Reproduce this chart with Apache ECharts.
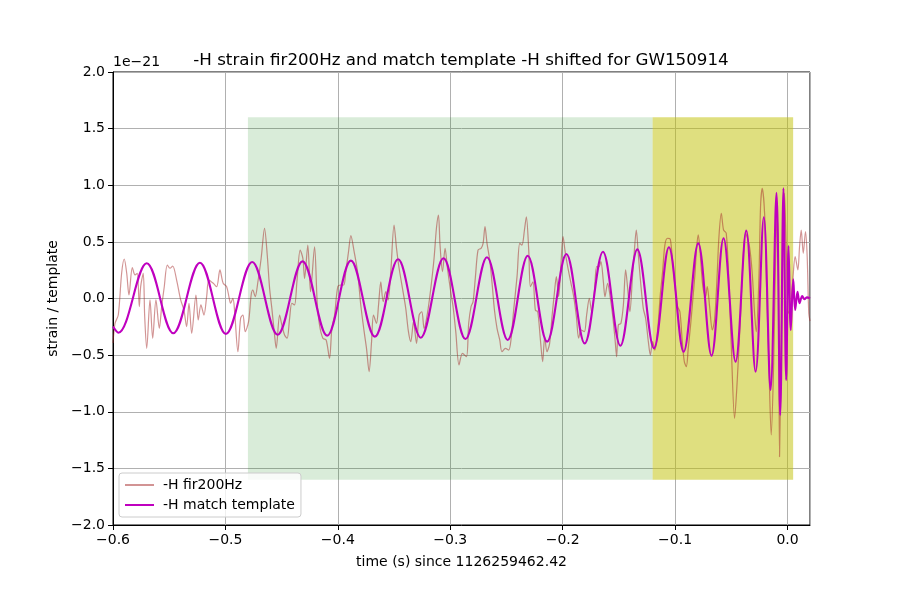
<!DOCTYPE html>
<html>
<head>
<meta charset="utf-8">
<script src="https://cdn.jsdelivr.net/npm/echarts@6/dist/echarts.min.js"></script>
<style>
html,body{margin:0;padding:0;background:#fff;}
#chart{width:900px;height:600px;}
</style>
</head>
<body>
<div id="chart"></div>
<script>
// time (s) since 1126259462.42 ; values in units of 1e-21
const strainTime = [
-0.6000,-0.5982,-0.5953,-0.5923,-0.5900,-0.5878,-0.5858,-0.5828,-0.5804,-0.5784,
-0.5766,-0.5754,-0.5731,-0.5718,-0.5700,-0.5671,-0.5647,-0.5618,-0.5588,-0.5567,
-0.5544,-0.5517,-0.5493,-0.5469,-0.5434,-0.5398,-0.5369,-0.5345,-0.5324,-0.5300,
-0.5262,-0.5242,-0.5218,-0.5191,-0.5167,-0.5147,-0.5108,-0.5078,-0.5049,-0.5020,
-0.4989,-0.4966,-0.4954,-0.4933,-0.4918,-0.4889,-0.4865,-0.4844,-0.4824,-0.4794,
-0.4771,-0.4756,-0.4735,-0.4711,-0.4682,-0.4652,-0.4628,-0.4607,-0.4587,-0.4563,
-0.4548,-0.4518,-0.4498,-0.4474,-0.4451,-0.4429,-0.4409,-0.4385,-0.4364,-0.4335,
-0.4311,-0.4296,-0.4267,-0.4243,-0.4207,-0.4184,-0.4163,-0.4133,-0.4104,-0.4074,
-0.4053,-0.4029,-0.4000,-0.3971,-0.3947,-0.3929,-0.3905,-0.3884,-0.3855,-0.3825,
-0.3796,-0.3766,-0.3745,-0.3722,-0.3700,-0.3683,-0.3656,-0.3638,-0.3618,-0.3597,
-0.3573,-0.3553,-0.3529,-0.3500,-0.3478,-0.3455,-0.3425,-0.3396,-0.3372,-0.3351,
-0.3327,-0.3300,-0.3277,-0.3253,-0.3233,-0.3203,-0.3173,-0.3144,-0.3123,-0.3105,
-0.3091,-0.3069,-0.3046,-0.3025,-0.2996,-0.2975,-0.2951,-0.2922,-0.2892,-0.2856,
-0.2836,-0.2815,-0.2797,-0.2776,-0.2753,-0.2726,-0.2708,-0.2691,-0.2673,-0.2649,
-0.2628,-0.2607,-0.2584,-0.2560,-0.2540,-0.2509,-0.2480,-0.2460,-0.2436,-0.2406,
-0.2382,-0.2362,-0.2340,-0.2323,-0.2302,-0.2287,-0.2264,-0.2243,-0.2222,-0.2198,
-0.2178,-0.2160,-0.2140,-0.2116,-0.2095,-0.2074,-0.2056,-0.2036,-0.2015,-0.1997,
-0.1976,-0.1947,-0.1926,-0.1902,-0.1878,-0.1858,-0.1837,-0.1807,-0.1787,-0.1763,
-0.1742,-0.1718,-0.1698,-0.1677,-0.1660,-0.1638,-0.1624,-0.1600,-0.1580,-0.1556,
-0.1535,-0.1520,-0.1505,-0.1482,-0.1460,-0.1440,-0.1422,-0.1402,-0.1380,-0.1363,
-0.1345,-0.1327,-0.1307,-0.1283,-0.1262,-0.1238,-0.1220,-0.1200,-0.1180,-0.1156,
-0.1132,-0.1111,-0.1091,-0.1067,-0.1043,-0.1022,-0.1002,-0.0978,-0.0957,-0.0936,
-0.0918,-0.0900,-0.0883,-0.0862,-0.0844,-0.0824,-0.0809,-0.0794,-0.0780,-0.0753,
-0.0729,-0.0714,-0.0693,-0.0669,-0.0649,-0.0628,-0.0610,-0.0589,-0.0569,-0.0545,
-0.0522,-0.0500,-0.0471,-0.0447,-0.0420,-0.0397,-0.0373,-0.0338,-0.0314,-0.0293,
-0.0278,-0.0255,-0.0240,-0.0225,-0.0204,-0.0184,-0.0166,-0.0145,-0.0124,-0.0107,
-0.0092,-0.0080,-0.0071,-0.0056,-0.0042,-0.0027,-0.0012,0.0009,0.0027,0.0047,
0.0068,0.0092,0.0107,0.0122,0.0140,0.0160,0.0175,0.0189,0.0200
];
const strainValue = [
-0.393,-0.219,-0.146,0.225,0.349,0.223,0.031,0.272,0.208,0.223,
-0.072,0.104,0.223,-0.161,-0.440,-0.013,-0.351,-0.013,-0.263,-0.072,
0.104,0.296,0.267,0.287,0.163,-0.013,-0.102,-0.249,-0.042,-0.307,
0.031,-0.190,-0.057,-0.146,0.016,0.163,0.134,0.104,0.252,0.134,
0.104,0.002,-0.042,0.002,-0.117,-0.470,-0.175,-0.146,-0.293,-0.205,
0.031,0.075,0.016,0.148,0.355,0.620,0.384,0.090,-0.087,-0.322,
-0.440,-0.146,-0.234,-0.322,-0.351,-0.175,-0.042,-0.057,0.148,0.428,
0.355,0.178,0.472,0.060,0.457,-0.028,-0.234,-0.351,-0.366,-0.528,
-0.263,-0.146,0.104,0.119,0.119,0.237,0.413,0.555,0.413,0.237,
-0.057,-0.293,-0.440,-0.646,-0.381,-0.146,-0.219,-0.057,0.148,-0.028,
0.060,-0.013,0.237,0.649,0.443,0.267,0.090,-0.087,-0.293,-0.381,
-0.205,-0.396,-0.146,-0.117,-0.263,-0.131,0.090,0.355,0.620,0.737,
0.472,0.237,0.443,0.267,0.060,-0.072,-0.293,-0.587,-0.484,-0.514,
-0.219,-0.072,-0.028,0.193,0.428,0.443,0.487,0.634,0.487,0.340,
0.134,-0.102,-0.263,-0.366,-0.470,-0.440,-0.455,-0.366,-0.102,0.193,
0.487,0.472,0.605,0.722,0.428,0.104,0.148,-0.102,-0.117,-0.366,
-0.558,-0.337,-0.470,-0.396,-0.161,0.046,0.193,0.016,0.311,0.546,
0.399,0.237,0.134,0.016,-0.161,-0.351,-0.278,-0.293,-0.146,0.002,
-0.117,0.060,0.281,0.281,0.325,0.148,0.016,0.134,0.031,-0.146,
-0.351,-0.514,-0.234,-0.219,-0.057,0.252,0.090,-0.117,0.178,0.413,
0.605,0.384,0.148,-0.087,-0.175,-0.381,-0.499,-0.381,-0.455,-0.293,
0.031,0.237,0.472,0.532,0.525,0.325,0.119,-0.072,-0.117,-0.381,
-0.558,-0.602,-0.440,-0.234,-0.028,0.208,0.443,0.561,0.443,0.104,
0.016,0.104,-0.072,-0.278,-0.190,0.163,0.546,0.752,0.605,0.576,
0.163,-0.426,-1.058,-0.720,-0.190,0.311,0.576,0.457,0.223,-0.131,
-0.293,0.163,0.811,0.973,0.752,0.016,-0.572,-1.205,-0.602,0.311,
0.752,0.163,-1.397,-0.426,0.457,0.929,0.457,-0.131,-0.072,0.163,
0.369,0.252,0.457,0.605,0.399,0.590,0.369,-0.131,-0.200
];
const templateTime = [
-0.6000,-0.5953,-0.5700,-0.5464,-0.5227,-0.4996,-0.4762,-0.4536,-0.4314,-0.4095,
-0.3884,-0.3671,-0.3464,-0.3262,-0.3060,-0.2865,-0.2673,-0.2489,-0.2311,-0.2139,
-0.1967,-0.1804,-0.1642,-0.1487,-0.1336,-0.1188,-0.1055,-0.0924,-0.0794,-0.0676,
-0.0569,-0.0462,-0.0367,-0.0284,-0.0211,-0.0151,-0.0098,-0.0065,-0.0036,-0.0012,
0.0009,0.0029,0.0051,0.0068,0.0089,0.0107,0.0131,0.0151,0.0172,0.0200
];
const templateValue = [
-0.249,-0.302,0.311,-0.307,0.316,-0.313,0.322,-0.320,0.328,-0.328,
0.334,-0.337,0.346,-0.346,0.355,-0.358,0.364,-0.366,0.378,-0.381,
0.393,-0.396,0.413,-0.417,0.434,-0.440,0.452,-0.470,0.487,-0.505,
0.532,-0.558,0.599,-0.646,0.717,-0.808,0.934,-1.029,0.973,-0.720,
0.464,-0.278,0.170,-0.102,0.060,-0.042,0.022,-0.007,0.011,0.000
];
// shaded windows [start, end] in time, vertical extent in 1e-21
const greenSpan = [-0.48, -0.12];
const yellowSpan = [-0.12, 0.005];
const spanHeight = [-1.6, 1.6];
const xTickLabels = ['-0.6','-0.5','-0.4','-0.3','-0.2','-0.1','0.0'];
const yTickLabels = ['-2.0','-1.5','-1.0','-0.5','0.0','0.5','1.0','1.5','2.0'];

const FONT = 'DejaVu Sans';
const fmt = s => s.replace('-', '\u2212');

const strainData = strainTime.map((t, i) => [t, strainValue[i]]);
const templateData = templateTime.map((t, i) => [t, templateValue[i]]);

const chart = echarts.init(document.getElementById('chart'), null, {renderer: 'canvas'});
chart.setOption({
  animation: false,
  backgroundColor: '#fff',
  textStyle: {fontFamily: FONT},
  title: {
    text: '-H strain fir200Hz and match template -H shifted for GW150914',
    left: 456, top: 47, textAlign: 'center',
    textStyle: {fontFamily: FONT, fontSize: 16.7, fontWeight: 'normal', color: '#000'}
  },
  graphic: [{
    type: 'text', left: 113, top: 55,
    style: {text: '1e\u221221', font: '14px "DejaVu Sans"', fill: '#000'}
  }],
  grid: {left: 113, right: 90, top: 72, bottom: 75, show: true, borderColor: '#000', borderWidth: 1, backgroundColor: 'transparent'},
  legend: {
    orient: 'vertical', left: 119, top: 473,
    data: [
      {name: '-H fir200Hz', icon: 'rect'},
      {name: '-H match template', icon: 'rect'}
    ],
    itemWidth: 29, itemHeight: 2, itemGap: 6,
    padding: [5, 6, 5, 6],
    backgroundColor: 'rgba(255,255,255,0.8)', borderColor: '#cccccc', borderWidth: 1, borderRadius: 3,
    textStyle: {fontFamily: FONT, fontSize: 14, color: '#000', padding: [0, 0, 0, 4]}
  },
  xAxis: {
    type: 'value', min: -0.6, max: 0.02, interval: 0.1,
    name: 'time (s) since 1126259462.42', nameLocation: 'middle', nameGap: 30,
    nameTextStyle: {fontFamily: FONT, fontSize: 14, color: '#000'},
    axisLine: {onZero: false, lineStyle: {color: '#000', width: 1}},
    axisTick: {show: true, length: 5, lineStyle: {color: '#000'}},
    axisLabel: {
      margin: 8, fontFamily: FONT, fontSize: 14, color: '#000', showMaxLabel: false,
      formatter: v => {
        const k = Math.round((v + 0.6) / 0.1);
        if (Math.abs(v - (-0.6 + k * 0.1)) > 1e-6 || k < 0 || k >= xTickLabels.length) return '';
        return fmt(xTickLabels[k]);
      }
    },
    splitLine: {show: true, lineStyle: {color: '#b0b0b0', width: 1}}
  },
  yAxis: {
    type: 'value', min: -2, max: 2, interval: 0.5,
    name: 'strain / template', nameLocation: 'middle', nameGap: 50, nameRotate: 90,
    nameTextStyle: {fontFamily: FONT, fontSize: 14, color: '#000'},
    axisLine: {show: true, onZero: false, lineStyle: {color: '#000', width: 1}},
    axisTick: {show: true, length: 5, lineStyle: {color: '#000'}},
    axisLabel: {
      margin: 8, fontFamily: FONT, fontSize: 14, color: '#000',
      formatter: v => {
        const k = Math.round((v + 2) / 0.5);
        return (k >= 0 && k < yTickLabels.length) ? fmt(yTickLabels[k]) : '';
      }
    },
    splitLine: {show: true, lineStyle: {color: '#b0b0b0', width: 1}}
  },
  series: [
    {
      name: 'spans', type: 'line', data: [], silent: true, z: 1,
      markArea: {
        silent: true,
        data: [
          [{xAxis: greenSpan[0], yAxis: spanHeight[0], itemStyle: {color: 'rgba(0,128,0,0.15)'}}, {xAxis: greenSpan[1], yAxis: spanHeight[1]}],
          [{xAxis: yellowSpan[0], yAxis: spanHeight[0], itemStyle: {color: 'rgba(191,191,0,0.5)'}}, {xAxis: yellowSpan[1], yAxis: spanHeight[1]}]
        ]
      }
    },
    {
      name: '-H fir200Hz', type: 'line', data: strainData, z: 2,
      symbol: 'none', smooth: 0.3, clip: true,
      lineStyle: {color: 'rgba(165,42,42,0.5)', width: 1.2},
      itemStyle: {color: 'rgba(165,42,42,0.5)'}
    },
    {
      name: '-H match template', type: 'line', data: templateData, z: 3,
      symbol: 'none', smooth: 0.36, clip: true,
      lineStyle: {color: '#bf00bf', width: 2.1},
      itemStyle: {color: '#bf00bf'}
    }
  ]
});
</script>
</body>
</html>
